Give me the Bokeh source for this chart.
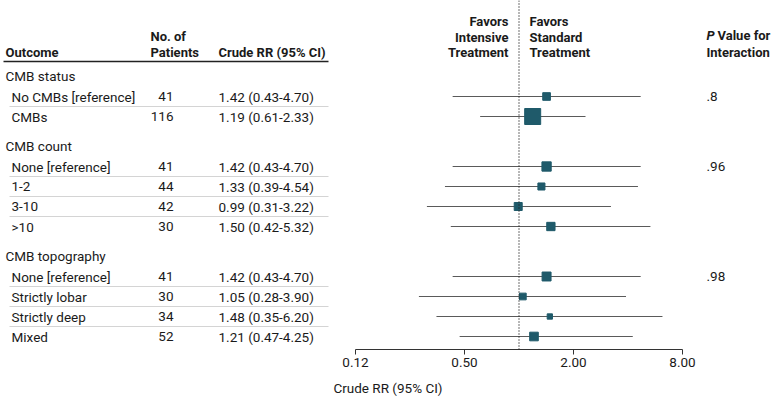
from bokeh.plotting import figure
from bokeh.models import Range1d, FixedTicker, Span, ColumnDataSource
from bokeh.core.properties import value
from bokeh.embed import file_html
from bokeh.resources import INLINE

# ---------------- data ----------------
groups = ["CMB status", "CMB count", "CMB topography"]
group_rows = [
    ["No CMBs [reference]", "CMBs"],
    ["None [reference]", "1-2", "3-10", ">10"],
    ["None [reference]", "Strictly lobar", "Strictly deep", "Mixed"],
]
patients = [[41, 116], [41, 44, 42, 30], [41, 30, 34, 52]]
rr = [[1.42, 1.19], [1.42, 1.33, 0.99, 1.50], [1.42, 1.05, 1.48, 1.21]]
ci_low = [[0.43, 0.61], [0.43, 0.39, 0.31, 0.42], [0.43, 0.28, 0.35, 0.47]]
ci_high = [[4.70, 2.33], [4.70, 4.54, 3.22, 5.32], [4.70, 3.90, 6.20, 4.25]]
weights = [[0.48, 1.0], [0.58, 0.44, 0.50, 0.52], [0.56, 0.42, 0.33, 0.54]]
p_interaction = [".8", ".96", ".98"]
tick_values = [0.125, 0.5, 2.0, 8.0]
tick_labels = ["0.12", "0.50", "2.00", "8.00"]

# ---------------- layout ----------------
FONT = "Roboto"
FS = "13.5px"
FS_HEAD = "13px"
TEXT_COLOR = "#1a1a1a"
MARK_COLOR = "#1f5a6a"
PX_MIN, PX_MAX = 355.0, 682.0          # picture x of 0.125 and 8
PX_PER_LOG2 = (PX_MAX - PX_MIN) / 6.0
W = 775


def px2x(px):
    return 0.125 * 2 ** ((px - PX_MIN) / PX_PER_LOG2)


# row y positions (picture pixels)
header_y = []
row_y = []
y = 75.0
for gi, rows in enumerate(group_rows):
    header_y.append(y)
    y += 21.0
    ys = []
    for _ in rows:
        ys.append(y)
        y += 20.0
    row_y.append(ys)
    y += 9.0

p = figure(
    frame_width=W, frame_height=349,
    x_axis_type="log",
    x_range=Range1d(px2x(0), px2x(W)),
    y_range=Range1d(349, 0),
    output_backend="svg", toolbar_location=None,
    y_axis_location=None, min_border=0,
)
p.grid.visible = False
p.outline_line_color = None
p.background_fill_color = "white"
p.border_fill_color = "white"

# x axis
ax = p.xaxis[0]
ax.bounds = (tick_values[0], tick_values[-1])
ax.ticker = FixedTicker(ticks=tick_values, minor_ticks=[])
ax.major_label_overrides = {v: l for v, l in zip(tick_values, tick_labels)}
ax.axis_line_color = "#333333"
ax.major_tick_line_color = "#333333"
ax.major_tick_out = 5
ax.major_tick_in = 0
ax.minor_tick_line_color = None
ax.major_label_standoff = 3
ax.major_label_text_font = FONT
ax.major_label_text_font_size = FS
ax.major_label_text_color = TEXT_COLOR
ax.axis_label = "Crude RR (95% CI)"
ax.axis_label_text_font = FONT
ax.axis_label_text_font_size = FS
ax.axis_label_text_font_style = "normal"
ax.axis_label_text_color = TEXT_COLOR
ax.axis_label_standoff = 10

# reference line
p.add_layout(Span(location=1.0, dimension="height", line_color="#222222",
                  line_dash="1 2", line_width=1.3))


def texts(xs_px, ys, strs, align="left", style="normal", size=FS):
    src = ColumnDataSource(dict(x=[px2x(v) for v in xs_px], y=ys, t=strs))
    p.text(x="x", y="y", text="t", source=src, text_font=value(FONT),
           text_font_size=size, text_align=align, text_baseline="middle",
           text_color=TEXT_COLOR, text_font_style=style)


# header
TABLE_L = 5
texts([TABLE_L], [52], ["Outcome"], style="bold", size=FS_HEAD)
texts([150, 150], [36, 52], ["No. of", "Patients"], style="bold", size=FS_HEAD)
texts([218], [52], ["Crude RR (95% CI)"], style="bold", size=FS_HEAD)
texts([508, 508, 508], [21, 37, 52], ["Favors", "Intensive", "Treatment"], align="right",
      style="bold", size=FS_HEAD)
texts([529, 529, 529], [21, 37, 52], ["Favors", "Standard", "Treatment"], style="bold", size=FS_HEAD)
texts([706], [35], ["P"], style="bold italic", size=FS_HEAD)
texts([717], [35], ["Value for"], style="bold", size=FS_HEAD)
texts([706], [52], ["Interaction"], style="bold", size=FS_HEAD)

# header underline
p.segment(x0=[px2x(3)], x1=[px2x(328)], y0=[61], y1=[61], line_color="#222222", line_width=1.6)

# body
for gi, g in enumerate(groups):
    texts([TABLE_L], [header_y[gi]], [g])
    ys = row_y[gi]
    texts([TABLE_L + 6] * len(ys), ys, group_rows[gi])
    texts([173] * len(ys), ys, [str(n) for n in patients[gi]], align="right")
    texts([218] * len(ys), ys,
          ["%.2f (%.2f-%.2f)" % (r, l, h) for r, l, h in zip(rr[gi], ci_low[gi], ci_high[gi])])
    # separators between rows
    sep = [yy + 10 for yy in ys[:-1]]
    if sep:
        p.segment(x0=[px2x(TABLE_L + 4)] * len(sep), x1=[px2x(328)] * len(sep),
                  y0=sep, y1=sep, line_color="#d4d4d4", line_width=1)
    # whiskers and markers
    p.segment(x0=ci_low[gi], x1=ci_high[gi], y0=ys, y1=ys, line_color="#5a5a5a", line_width=1.1)
    p.scatter(x=rr[gi], y=ys, marker="square", size=[16 * w for w in weights[gi]],
              fill_color=MARK_COLOR, line_color=MARK_COLOR)
    texts([706], [ys[0]], [p_interaction[gi]])

open("out.html", "w").write(file_html(p, INLINE))
